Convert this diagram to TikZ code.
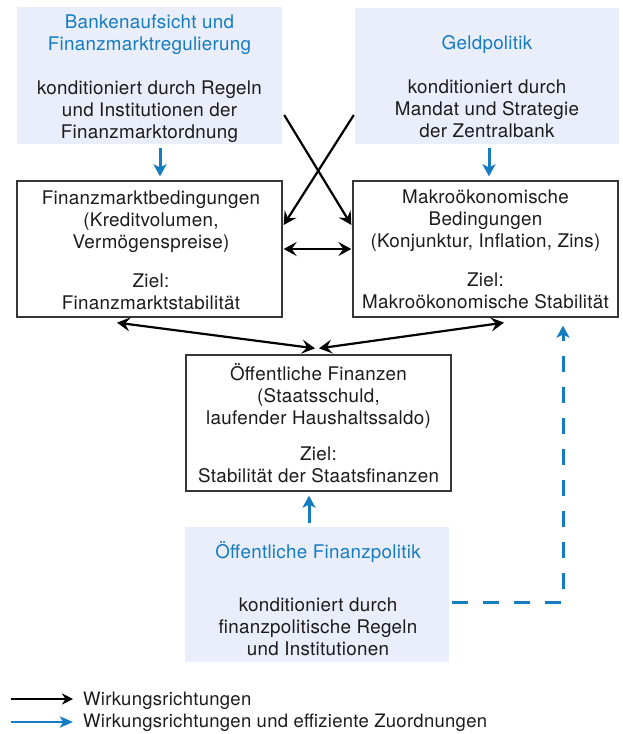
\documentclass[tikz,border=0pt]{standalone}
\usepackage{fontspec}
\setmainfont{TeX Gyre Heros}[LetterSpace=1.5]
\usetikzlibrary{arrows.meta}
\definecolor{blueT}{RGB}{22,124,194}
\definecolor{blueF}{RGB}{233,238,250}
\definecolor{txtC}{RGB}{30,27,28}
\definecolor{boxC}{RGB}{55,55,55}
\tikzset{
  bluebox/.style={fill=blueF, draw=none, inner sep=0pt},
  framebox/.style={draw=boxC, line width=1.3pt, fill=white, inner sep=0pt},
  txt/.style={text=txtC, align=center, anchor=base, inner sep=0pt, font=\fontsize{18.8}{22}\selectfont},
  legtxt/.style={text=txtC, anchor=base west, inner sep=0pt, font=\fontsize{18.5}{22}\selectfont},
  blk/.style={draw=black, line width=2.2pt, -{Stealth[length=13pt,width=14pt,inset=5pt]}},
  blkboth/.style={draw=black, line width=2.2pt, {Stealth[length=13pt,width=14pt,inset=5pt]}-{Stealth[length=13pt,width=14pt,inset=5pt]}},
  blu/.style={draw=blueT, line width=3pt, -{Stealth[length=12pt,width=13pt,inset=3pt]}},
  bludash/.style={blu, dash pattern=on 16pt off 15pt},
}
\begin{document}
\begin{tikzpicture}[x=1pt,y=-1pt]
\useasboundingbox (0,0) rectangle (622,734);

% boxes
\node[bluebox, minimum width=265pt, minimum height=137pt] (bank) at (149.5,75.5) {};
\node[bluebox, minimum width=264pt, minimum height=136pt] (geld) at (487,76) {};
\node[framebox, minimum width=265pt, minimum height=136pt] (fm) at (149.5,249) {};
\node[framebox, minimum width=265pt, minimum height=136pt] (makro) at (485.5,249) {};
\node[framebox, minimum width=265pt, minimum height=136pt] (oef) at (318.5,423) {};
\node[bluebox, minimum width=264pt, minimum height=135pt] (pol) at (317,594.5) {};

% texts (anchor base = baseline of the last line)
\node[txt] (bankT) at (149.5,138) {\textcolor{blueT}{Bankenaufsicht und}\\\textcolor{blueT}{Finanzmarktregulierung}\\[22pt]konditioniert durch Regeln\\und Institutionen der\\Finanzmarktordnung};
\node[txt] (geldT) at (487,137) {\textcolor{blueT}{Geldpolitik}\\[22pt]konditioniert durch\\Mandat und Strategie\\der Zentralbank};
\node[txt] (fmT) at (151,309) {Finanzmarktbedingungen\\(Kreditvolumen,\\Vermögenspreise)\\[17pt]Ziel:\\Finanzmarktstabilität};
\node[txt] (makroT) at (485.5,308) {Makroökonomische\\Bedingungen\\(Konjunktur, Inflation, Zins)\\[17pt]Ziel:\\Makroökonomische Stabilität};
\node[txt] (oefT) at (318.5,482) {Öffentliche Finanzen\\(Staatsschuld,\\laufender Haushaltssaldo)\\[14pt]Ziel:\\Stabilität der Staatsfinanzen};
\node[txt] (polT) at (318,655) {\textcolor{blueT}{Öffentliche Finanzpolitik}\\[31pt]konditioniert durch\\finanzpolitische Regeln\\und Institutionen};

% connectors
\draw[blu] ([xshift=10.5pt,yshift=-4pt]bank.south) -- ([xshift=10.5pt,yshift=4pt]fm.north);
\draw[blu] ([xshift=2pt,yshift=-4pt]geld.south) -- ([xshift=3.5pt,yshift=4pt]makro.north);
\draw[blk] ([xshift=2pt,yshift=-39.5pt]bank.east) -- ([xshift=-1pt,yshift=24pt]makro.west);
\draw[blk] ([xshift=-1pt,yshift=-39pt]geld.west) -- ([xshift=1pt,yshift=24pt]fm.east);
\draw[blkboth] ([xshift=1pt]fm.east) -- ([xshift=-1pt]makro.west);
\draw[blkboth] ([xshift=-32.5pt,yshift=-5pt]fm.south) -- ([xshift=-3.5pt,yshift=6pt]oef.north);
\draw[blkboth] ([xshift=18.5pt,yshift=-5pt]makro.south) -- ([xshift=0.5pt,yshift=6pt]oef.north);
\draw[blu] ([xshift=-8pt,yshift=4pt]pol.north) -- ([xshift=-9.5pt,yshift=-4pt]oef.south);
\draw[bludash] ([xshift=3pt,yshift=-7.5pt]pol.east) -| ([xshift=77.5pt,yshift=-8pt]makro.south);

% legend
\coordinate (l1s) at (11,699);
\coordinate (l1e) at (73,699);
\coordinate (l2s) at (11,722);
\coordinate (l2e) at (73,722);
\draw[draw=black, line width=2pt, -{Stealth[length=11pt,width=11pt,inset=3.5pt]}] (l1s) -- (l1e);
\draw[draw=blueT, line width=2.6pt, -{Stealth[length=13pt,width=11pt,inset=3pt]}] (l2s) -- (l2e);
\node[legtxt] (leg1) at (83,705) {Wirkungsrichtungen};
\node[legtxt] (leg2) at (83,727) {Wirkungsrichtungen und effiziente Zuordnungen};
\end{tikzpicture}
\end{document}
